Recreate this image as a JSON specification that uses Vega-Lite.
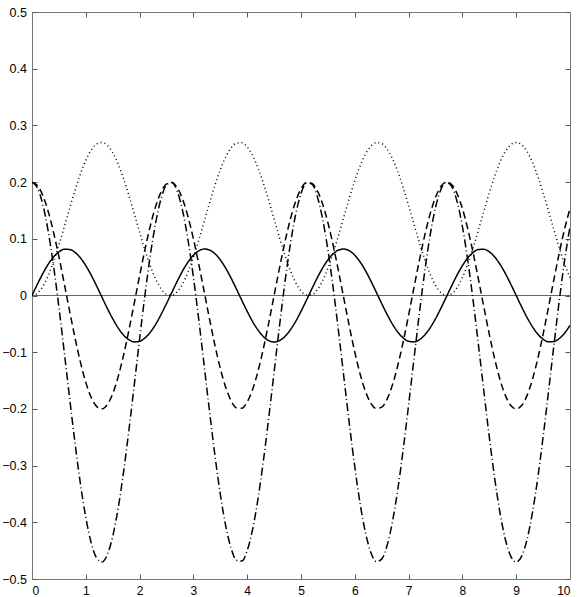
{
 "$schema": "https://vega.github.io/schema/vega-lite/v6.json",
 "width": 538,
 "height": 567,
 "autosize": "none",
 "padding": {"left": 32, "top": 12, "right": 14, "bottom": 18},
 "background": "white",
 "config": {
  "view": {"stroke": null},
  "axis": {"grid": false, "domainColor": "#777", "tickColor": "#555", "tickSize": -5, "labelFont": "Liberation Sans", "labelFontSize": 12.5, "labelColor": "black", "title": null}
 },
 "data": {"values": [
{"x":0,"solid":0,"dashed":0.2,"dashdot":0.2,"dotted":0},
{"x":0.1,"solid":0.0198,"dashed":0.1941,"dashdot":0.1901,"dotted":0.004},
{"x":0.2,"solid":0.0385,"dashed":0.1766,"dashdot":0.1608,"dotted":0.0158},
{"x":0.3,"solid":0.0549,"dashed":0.1486,"dashdot":0.1139,"dotted":0.0347},
{"x":0.4,"solid":0.068,"dashed":0.1118,"dashdot":0.0523,"dotted":0.0595},
{"x":0.5,"solid":0.0771,"dashed":0.0684,"dashdot":-0.0204,"dotted":0.0888},
{"x":0.6,"solid":0.0815,"dashed":0.0209,"dashdot":-0.1,"dotted":0.1209},
{"x":0.7,"solid":0.0812,"dashed":-0.0278,"dashdot":-0.1816,"dotted":0.1538},
{"x":0.8,"solid":0.076,"dashed":-0.0749,"dashdot":-0.2605,"dotted":0.1856},
{"x":0.9,"solid":0.0663,"dashed":-0.1176,"dashdot":-0.3319,"dotted":0.2144},
{"x":1.0,"solid":0.0527,"dashed":-0.1532,"dashdot":-0.3916,"dotted":0.2384},
{"x":1.1,"solid":0.0359,"dashed":-0.1798,"dashdot":-0.4361,"dotted":0.2563},
{"x":1.2,"solid":0.017,"dashed":-0.1956,"dashdot":-0.4627,"dotted":0.267},
{"x":1.3,"solid":-0.0029,"dashed":-0.1999,"dashdot":-0.4698,"dotted":0.2699},
{"x":1.4,"solid":-0.0226,"dashed":-0.1923,"dashdot":-0.457,"dotted":0.2648},
{"x":1.5,"solid":-0.041,"dashed":-0.1732,"dashdot":-0.4251,"dotted":0.2519},
{"x":1.6,"solid":-0.057,"dashed":-0.1439,"dashdot":-0.376,"dotted":0.2321},
{"x":1.7,"solid":-0.0695,"dashed":-0.106,"dashdot":-0.3125,"dotted":0.2065},
{"x":1.8,"solid":-0.078,"dashed":-0.0618,"dashdot":-0.2385,"dotted":0.1767},
{"x":1.9,"solid":-0.0818,"dashed":-0.014,"dashdot":-0.1584,"dotted":0.1444},
{"x":2.0,"solid":-0.0808,"dashed":0.0347,"dashdot":-0.0768,"dotted":0.1116},
{"x":2.1,"solid":-0.0749,"dashed":0.0813,"dashdot":0.0012,"dotted":0.0801},
{"x":2.2,"solid":-0.0646,"dashed":0.1231,"dashdot":0.0713,"dotted":0.0519},
{"x":2.3,"solid":-0.0505,"dashed":0.1576,"dashdot":0.129,"dotted":0.0286},
{"x":2.4,"solid":-0.0333,"dashed":0.1827,"dashdot":0.171,"dotted":0.0117},
{"x":2.5,"solid":-0.0142,"dashed":0.197,"dashdot":0.1949,"dotted":0.0021},
{"x":2.6,"solid":0.0057,"dashed":0.1995,"dashdot":0.1992,"dotted":0.0003},
{"x":2.7,"solid":0.0253,"dashed":0.1902,"dashdot":0.1836,"dotted":0.0066},
{"x":2.8,"solid":0.0435,"dashed":0.1696,"dashdot":0.1491,"dotted":0.0205},
{"x":2.9,"solid":0.059,"dashed":0.1389,"dashdot":0.0977,"dotted":0.0412},
{"x":3.0,"solid":0.071,"dashed":0.1,"dashdot":0.0325,"dotted":0.0675},
{"x":3.1,"solid":0.0788,"dashed":0.0551,"dashdot":-0.0427,"dotted":0.0978},
{"x":3.2,"solid":0.082,"dashed":0.007,"dashdot":-0.1233,"dotted":0.1303},
{"x":3.3,"solid":0.0802,"dashed":-0.0416,"dashdot":-0.2046,"dotted":0.1631},
{"x":3.4,"solid":0.0737,"dashed":-0.0877,"dashdot":-0.2819,"dotted":0.1942},
{"x":3.5,"solid":0.0628,"dashed":-0.1286,"dashdot":-0.3503,"dotted":0.2218},
{"x":3.6,"solid":0.0482,"dashed":-0.1618,"dashdot":-0.406,"dotted":0.2442},
{"x":3.7,"solid":0.0307,"dashed":-0.1854,"dashdot":-0.4456,"dotted":0.2602},
{"x":3.8,"solid":0.0114,"dashed":-0.1981,"dashdot":-0.4668,"dotted":0.2687},
{"x":3.9,"solid":-0.0086,"dashed":-0.1989,"dashdot":-0.4682,"dotted":0.2693},
{"x":4.0,"solid":-0.028,"dashed":-0.1879,"dashdot":-0.4498,"dotted":0.2619},
{"x":4.1,"solid":-0.0459,"dashed":-0.1658,"dashdot":-0.4127,"dotted":0.2469},
{"x":4.2,"solid":-0.0609,"dashed":-0.1338,"dashdot":-0.3591,"dotted":0.2253},
{"x":4.3,"solid":-0.0724,"dashed":-0.0939,"dashdot":-0.2923,"dotted":0.1984},
{"x":4.4,"solid":-0.0796,"dashed":-0.0484,"dashdot":-0.216,"dotted":0.1677},
{"x":4.5,"solid":-0.082,"dashed":0,"dashdot":-0.135,"dotted":0.135},
{"x":4.6,"solid":-0.0796,"dashed":0.0484,"dashdot":-0.054,"dotted":0.1023},
{"x":4.7,"solid":-0.0724,"dashed":0.0939,"dashdot":0.0223,"dotted":0.0716},
{"x":4.8,"solid":-0.0609,"dashed":0.1338,"dashdot":0.0891,"dotted":0.0447},
{"x":4.9,"solid":-0.0459,"dashed":0.1658,"dashdot":0.1427,"dotted":0.0231},
{"x":5.0,"solid":-0.028,"dashed":0.1879,"dashdot":0.1798,"dotted":0.0081},
{"x":5.1,"solid":-0.0086,"dashed":0.1989,"dashdot":0.1982,"dotted":0.0007},
{"x":5.2,"solid":0.0114,"dashed":0.1981,"dashdot":0.1968,"dotted":0.0013},
{"x":5.3,"solid":0.0307,"dashed":0.1854,"dashdot":0.1756,"dotted":0.0098},
{"x":5.4,"solid":0.0482,"dashed":0.1618,"dashdot":0.136,"dotted":0.0258},
{"x":5.5,"solid":0.0628,"dashed":0.1286,"dashdot":0.0803,"dotted":0.0482},
{"x":5.6,"solid":0.0737,"dashed":0.0877,"dashdot":0.0119,"dotted":0.0758},
{"x":5.7,"solid":0.0802,"dashed":0.0416,"dashdot":-0.0654,"dotted":0.1069},
{"x":5.8,"solid":0.082,"dashed":-0.007,"dashdot":-0.1467,"dotted":0.1397},
{"x":5.9,"solid":0.0788,"dashed":-0.0551,"dashdot":-0.2273,"dotted":0.1722},
{"x":6.0,"solid":0.071,"dashed":-0.1,"dashdot":-0.3025,"dotted":0.2025},
{"x":6.1,"solid":0.059,"dashed":-0.1389,"dashdot":-0.3677,"dotted":0.2288},
{"x":6.2,"solid":0.0435,"dashed":-0.1696,"dashdot":-0.4191,"dotted":0.2495},
{"x":6.3,"solid":0.0253,"dashed":-0.1902,"dashdot":-0.4536,"dotted":0.2634},
{"x":6.4,"solid":0.0057,"dashed":-0.1995,"dashdot":-0.4692,"dotted":0.2697},
{"x":6.5,"solid":-0.0142,"dashed":-0.197,"dashdot":-0.4649,"dotted":0.2679},
{"x":6.6,"solid":-0.0333,"dashed":-0.1827,"dashdot":-0.441,"dotted":0.2583},
{"x":6.7,"solid":-0.0505,"dashed":-0.1576,"dashdot":-0.399,"dotted":0.2414},
{"x":6.8,"solid":-0.0646,"dashed":-0.1231,"dashdot":-0.3413,"dotted":0.2181},
{"x":6.9,"solid":-0.0749,"dashed":-0.0813,"dashdot":-0.2712,"dotted":0.1899},
{"x":7.0,"solid":-0.0808,"dashed":-0.0347,"dashdot":-0.1932,"dotted":0.1584},
{"x":7.1,"solid":-0.0818,"dashed":0.014,"dashdot":-0.1116,"dotted":0.1256},
{"x":7.2,"solid":-0.078,"dashed":0.0618,"dashdot":-0.0315,"dotted":0.0933},
{"x":7.3,"solid":-0.0695,"dashed":0.106,"dashdot":0.0425,"dotted":0.0635},
{"x":7.4,"solid":-0.057,"dashed":0.1439,"dashdot":0.106,"dotted":0.0379},
{"x":7.5,"solid":-0.041,"dashed":0.1732,"dashdot":0.1551,"dotted":0.0181},
{"x":7.6,"solid":-0.0226,"dashed":0.1923,"dashdot":0.187,"dotted":0.0052},
{"x":7.7,"solid":-0.0029,"dashed":0.1999,"dashdot":0.1998,"dotted":0.0001},
{"x":7.8,"solid":0.017,"dashed":0.1956,"dashdot":0.1927,"dotted":0.003},
{"x":7.9,"solid":0.0359,"dashed":0.1798,"dashdot":0.1661,"dotted":0.0137},
{"x":8.0,"solid":0.0527,"dashed":0.1532,"dashdot":0.1216,"dotted":0.0316},
{"x":8.1,"solid":0.0663,"dashed":0.1176,"dashdot":0.0619,"dotted":0.0556},
{"x":8.2,"solid":0.076,"dashed":0.0749,"dashdot":-0.0095,"dotted":0.0844},
{"x":8.3,"solid":0.0812,"dashed":0.0278,"dashdot":-0.0884,"dotted":0.1162},
{"x":8.4,"solid":0.0815,"dashed":-0.0209,"dashdot":-0.17,"dotted":0.1491},
{"x":8.5,"solid":0.0771,"dashed":-0.0684,"dashdot":-0.2496,"dotted":0.1812},
{"x":8.6,"solid":0.068,"dashed":-0.1118,"dashdot":-0.3223,"dotted":0.2105},
{"x":8.7,"solid":0.0549,"dashed":-0.1486,"dashdot":-0.3839,"dotted":0.2353},
{"x":8.8,"solid":0.0385,"dashed":-0.1766,"dashdot":-0.4308,"dotted":0.2542},
{"x":8.9,"solid":0.0198,"dashed":-0.1941,"dashdot":-0.4601,"dotted":0.266},
{"x":9.0,"solid":0,"dashed":-0.2,"dashdot":-0.47,"dotted":0.27},
{"x":9.1,"solid":-0.0198,"dashed":-0.1941,"dashdot":-0.4601,"dotted":0.266},
{"x":9.2,"solid":-0.0385,"dashed":-0.1766,"dashdot":-0.4308,"dotted":0.2542},
{"x":9.3,"solid":-0.0549,"dashed":-0.1486,"dashdot":-0.3839,"dotted":0.2353},
{"x":9.4,"solid":-0.068,"dashed":-0.1118,"dashdot":-0.3223,"dotted":0.2105},
{"x":9.5,"solid":-0.0771,"dashed":-0.0684,"dashdot":-0.2496,"dotted":0.1812},
{"x":9.6,"solid":-0.0815,"dashed":-0.0209,"dashdot":-0.17,"dotted":0.1491},
{"x":9.7,"solid":-0.0812,"dashed":0.0278,"dashdot":-0.0884,"dotted":0.1162},
{"x":9.8,"solid":-0.076,"dashed":0.0749,"dashdot":-0.0095,"dotted":0.0844},
{"x":9.9,"solid":-0.0663,"dashed":0.1176,"dashdot":0.0619,"dotted":0.0556},
{"x":10.0,"solid":-0.0527,"dashed":0.1532,"dashdot":0.1216,"dotted":0.0316}
 ]},
 "resolve": {"axis": {"x": "independent", "y": "independent"}},
 "layer": [
  {
   "mark": {"type": "rule", "color": "#666", "strokeWidth": 1},
   "encoding": {
    "y": {"datum": 0, "type": "quantitative", "scale": {"domain": [-0.5, 0.5], "nice": false, "zero": false}, "axis": null}
   }
  },
  {
   "transform": [{"fold": ["solid", "dashed", "dashdot", "dotted"], "as": ["series", "value"]}],
   "mark": {"type": "line", "color": "black", "interpolate": "monotone", "clip": true},
   "encoding": {
    "x": {"field": "x", "type": "quantitative", "scale": {"domain": [0, 10], "nice": false, "zero": false},
          "axis": {"orient": "bottom", "values": [0,1,2,3,4,5,6,7,8,9,10], "labelPadding": 11.5, "labelBaseline": "top", "labelFontSize": 12}},
    "y": {"field": "value", "type": "quantitative", "scale": {"domain": [-0.5, 0.5], "nice": false, "zero": false},
          "axis": {"orient": "left", "values": [-0.5,-0.4,-0.3,-0.2,-0.1,0,0.1,0.2,0.3,0.4,0.5], "format": "~g", "labelPadding": 10.5}},
    "strokeDash": {"field": "series", "type": "nominal", "scale": {"domain": ["solid", "dashed", "dashdot", "dotted"], "range": [[1, 0], [7, 4], [8, 3, 1, 3], [1, 3]]}, "legend": null},
    "strokeWidth": {"field": "series", "type": "nominal", "scale": {"domain": ["solid", "dashed", "dashdot", "dotted"], "range": [1.5, 1.5, 1.5, 1]}, "legend": null}
   }
  },
  {
   "mark": {"type": "point", "opacity": 0},
   "encoding": {
    "x": {"field": "x", "type": "quantitative", "axis": {"orient": "top", "labels": false, "values": [0,1,2,3,4,5,6,7,8,9,10]}},
    "y": {"field": "solid", "type": "quantitative", "axis": {"orient": "right", "labels": false, "values": [-0.5,-0.4,-0.3,-0.2,-0.1,0,0.1,0.2,0.3,0.4,0.5]}}
   }
  }
 ]
}
